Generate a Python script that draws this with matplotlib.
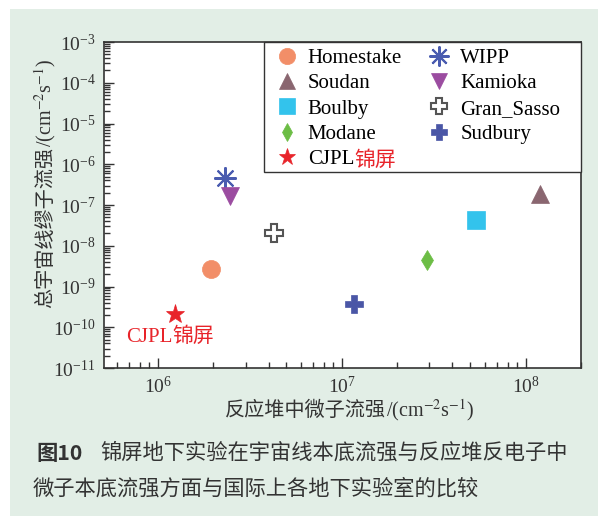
import numpy as np
import matplotlib
matplotlib.use("Agg")
import matplotlib.pyplot as plt
from matplotlib.ticker import LogLocator, NullFormatter
from matplotlib.patches import Rectangle

plt.rcParams['mathtext.fontset'] = 'stix'
plt.rcParams['font.family'] = ['Liberation Serif']

# 各地下实验室: 反应堆中微子流强 / 宇宙线缪子流强
labs = ['Homestake', 'Soudan', 'Boulby', 'Modane', 'CJPL',
        'WIPP', 'Kamioka', 'Gran_Sasso', 'Sudbury']
reactor_flux = [1.94e6, 1.2e8, 5.4e7, 2.9e7, 1.24e6, 2.31e6, 2.46e6, 4.3e6, 1.16e7]
muon_flux = [2.7e-9, 1.9e-7, 4.4e-8, 4.5e-9, 2.1e-10, 4.7e-7, 1.7e-7, 2.1e-8, 3.7e-10]

markers = ['o', '^', 's', 'd', '*', (8, 2, 0), 'v', 'P', 'P']
colors = ['#f28e68', '#8a6670', '#33c3ec', '#6cbd45', '#e8242a',
          '#4a5cb0', '#9b4ca0', 'white', '#4a56a6']
edges = ['#f28e68', '#8a6670', '#33c3ec', '#6cbd45', '#e8242a',
         '#4a5cb0', '#9b4ca0', '#555555', '#4a56a6']
sizes = [13, 13, 12.5, 10, 14, 16, 13, 13, 13]

W, H = 598, 516
fig = plt.figure(figsize=(W / 100, H / 100), dpi=100, facecolor='white')
fig.patches.append(Rectangle((10 / W, 0), 1, 1 - 9 / H, transform=fig.transFigure,
                             facecolor='#e2eee6', edgecolor='none', zorder=-10))
ax = fig.add_axes([104 / W, 1 - 368 / H, 477 / W, 326 / H])
ax.set_facecolor('white')

for i in range(len(labs)):
    ax.plot(reactor_flux[i], muon_flux[i], linestyle='none', marker=markers[i],
            markersize=sizes[i], markerfacecolor=colors[i], markeredgecolor=edges[i],
            markeredgewidth=1.5 if i in (5, 7) else 0.5, label=labs[i])

ax.set_xscale('log')
ax.set_yscale('log')
ax.set_xlim(5.1e5, 2.0e8)
ax.set_ylim(1e-11, 1e-3)

ax.xaxis.set_major_locator(LogLocator(base=10, numticks=20))
ax.xaxis.set_minor_locator(LogLocator(base=10, subs=np.arange(2, 10), numticks=100))
ax.yaxis.set_major_locator(LogLocator(base=10, numticks=20))
ax.yaxis.set_minor_locator(LogLocator(base=10, subs=np.arange(2, 10), numticks=100))
ax.xaxis.set_minor_formatter(NullFormatter())
ax.yaxis.set_minor_formatter(NullFormatter())
ax.tick_params(which='both', direction='in', top=False, right=False, colors='#333333',
               labelsize=14, width=1)
ax.tick_params(which='major', length=7, pad=6)
ax.tick_params(which='minor', length=4)
for s in ax.spines.values():
    s.set_color('#333333')
    s.set_linewidth(1.2)

# 图例: 无边框, 外框单独画 (右侧留白较多)
leg = ax.legend(ncol=2, loc='upper left', bbox_to_anchor=(266 / W, 1 - 42 / H),
                bbox_transform=fig.transFigure,
                prop={'family': 'Liberation Serif', 'size': 15}, frameon=False,
                borderaxespad=0, handletextpad=0.3, columnspacing=1.1, labelspacing=0.28,
                borderpad=0.3, handlelength=1.4, markerscale=0.9)
ax.add_patch(Rectangle((264 / W, 1 - 172 / H), (581 - 264) / W, 130 / H,
                       transform=fig.transFigure, facecolor='white', edgecolor='#333333',
                       linewidth=1.0, zorder=4, clip_on=False))

fig.canvas.draw()
renderer = fig.canvas.get_renderer()


def two_part(cx, cy, a, b, color='#333333', size=15, rot=False):
    # 中文部分 + 西文部分; 横排时 (cx, cy) 为中心, 竖排时 cx 为基线位置
    yb = 100.0
    t1 = fig.text(0, yb / H, a, family='Noto Sans CJK SC', fontsize=size, color=color,
                  ha='left', va='baseline')
    t2 = fig.text(0, yb / H, b, family='Liberation Serif', fontsize=size, color=color,
                  ha='left', va='baseline')
    b1 = t1.get_window_extent(renderer)
    b2 = t2.get_window_extent(renderer)
    w1, w2 = b1.width, b2.width
    if rot:
        y0 = (H - cy) - (w1 + w2) / 2
        for t, bb, yy in ((t1, b1, y0), (t2, b2, y0 + w1)):
            d = yb - bb.y0
            t.set_rotation(90)
            t.set_rotation_mode('anchor')
            t.set_va('bottom')
            t.set_position(((cx + d) / W, yy / H))
    else:
        x0 = cx - (w1 + w2) / 2
        t1.set_position((x0 / W, 1 - cy / H))
        t2.set_position(((x0 + w1) / W, 1 - cy / H))


def latin_cjk(x0, cy, a, b, color, size):
    # 西文在前, 中文在后
    t1 = fig.text(x0 / W, 1 - cy / H, a, family='Liberation Serif', fontsize=size,
                  color=color, ha='left', va='baseline')
    w1 = t1.get_window_extent(renderer).width
    fig.text((x0 + w1) / W, 1 - cy / H, b, family='Noto Sans CJK SC', fontsize=size,
             color=color, ha='left', va='baseline')


unit = '/(cm$^{-2}$s$^{-1}$)'
two_part(350, 416, '反应堆中微子流强', unit, size=14.5)
two_part(51, 183, '总宇宙线缪子流强', unit, size=14.5, rot=True)

# 图中红色标注
latin_cjk(126, 342, 'CJPL', '锦屏', '#e8242a', 15)

# 图例中 "锦屏" 红色
for t in leg.get_texts():
    if t.get_text() == 'CJPL':
        bb = t.get_window_extent(renderer)
        fig.text(bb.x1 / W, (bb.y0 + bb.y1) / 2 / H, '锦屏', family='Noto Sans CJK SC',
                 color='#e8242a', fontsize=15, ha='left', va='center')

cap = dict(family=['Noto Sans CJK SC'], color='#333333', fontsize=15.3)
fig.text(36 / W, 1 - 453 / H, '图10', fontweight='bold', va='center', **cap)
fig.text(100 / W, 1 - 453 / H, '锦屏地下实验在宇宙线本底流强与反应堆反电子中', va='center', **cap)
fig.text(33 / W, 1 - 489 / H, '微子本底流强方面与国际上各地下实验室的比较', va='center', **cap)

fig.savefig('out.png', dpi=100, facecolor=fig.get_facecolor())
